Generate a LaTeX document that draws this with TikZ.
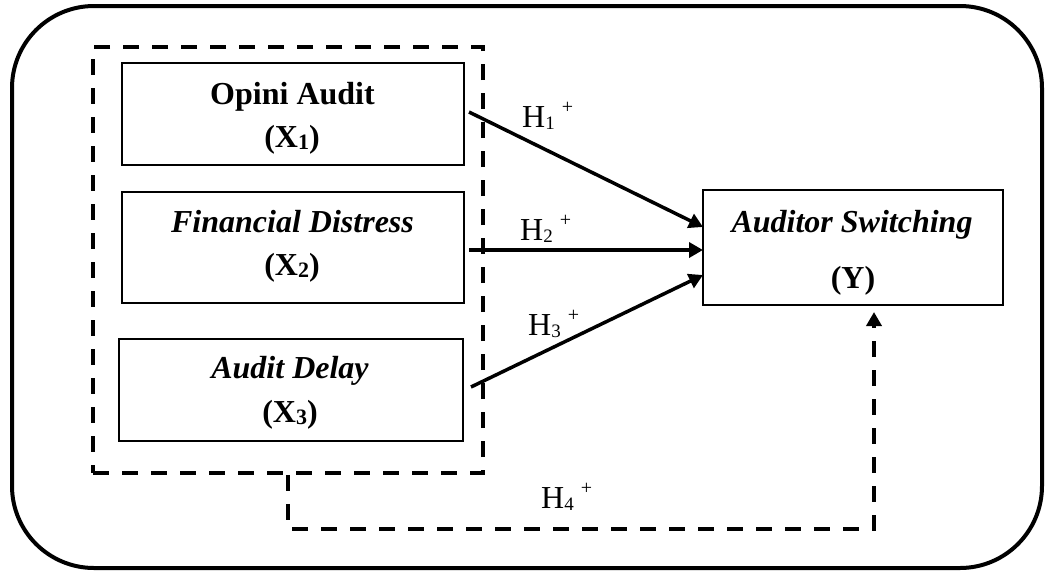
\documentclass[tikz,border=0pt]{standalone}
\usepackage{fontspec}
\setmainfont{Liberation Serif}
\usetikzlibrary{arrows.meta,calc}
\newcommand\mysub[1]{\raisebox{-2pt}{\fontsize{22}{22}\selectfont #1}}
\newcommand\hyplab[1]{H\raisebox{-2pt}{\fontsize{19}{19}\selectfont #1}\hspace{7pt}\raisebox{14pt}{\fontsize{20}{20}\selectfont +}}
\begin{document}
\begin{tikzpicture}[x=1pt,y=-1pt,
  box/.style={draw, line width=2pt, inner sep=0pt},
  lbl/.style={inner sep=0pt, anchor=base, font=\fontsize{32}{38}\selectfont},
  hyp/.style={inner sep=0pt, anchor=base west, font=\fontsize{32}{38}\selectfont},
  conn/.style={line width=3.5pt, -{Triangle[length=14pt,width=15pt]}},
  dashfour/.style={line width=3.5pt, dash pattern=on 16pt off 13pt},
]
\useasboundingbox (0,0) rectangle (1045,571);
\draw[line width=4pt, rounded corners=82pt] (12,6) rectangle (1042,568);

% dashed group
\node[draw, dashfour, minimum width=390pt, minimum height=426pt, inner sep=0pt] (grp) at (288,260) {};

% boxes
\node[box, minimum width=342pt, minimum height=102pt] (x1) at (293,114) {};
\node[box, minimum width=342pt, minimum height=111pt] (x2) at (293,247.5) {};
\node[box, minimum width=344pt, minimum height=102pt] (x3) at (291,390) {};
\node[box, minimum width=300pt, minimum height=115pt] (as) at (853,247.5) {};

% texts
\node[lbl] (x1a) at (292.5,104) {\bfseries Opini Audit};
\node[lbl] (x1b) at (292,147) {\bfseries (X\mysub{1})};
\node[lbl] (x2a) at (292.5,232) {\bfseries\itshape Financial Distress};
\node[lbl] (x2b) at (292,275) {\bfseries (X\mysub{2})};
\node[lbl] (x3a) at (290,378) {\bfseries\itshape Audit Delay};
\node[lbl] (x3b) at (290,422) {\bfseries (X\mysub{3})};
\node[lbl] (ya) at (852,232) {\bfseries\itshape Auditor Switching};
\node[lbl] (yb) at (853,288) {\bfseries (Y)};

% connectors
\coordinate (s1) at (469,112);
\coordinate (e1) at (703,227);
\coordinate (s2) at (469,250);
\coordinate (e2) at (703,250);
\coordinate (s3) at (471,387);
\coordinate (e3) at (703,275);
\coordinate (e4) at (874,312);
\draw[conn] (s1) -- (e1);
\draw[conn] (s2) -- (e2);
\draw[conn] (s3) -- (e3);
\draw[dashfour, -{Triangle[length=14pt,width=15pt]}] (grp.south) -- ++(0,54) -| (e4);

% hypothesis labels
\node[hyp] (h1) at (522,127) {\hyplab{1}};
\node[hyp] (h2) at (520,240) {\hyplab{2}};
\node[hyp] (h3) at (528,335) {\hyplab{3}};
\node[hyp] (h4) at (541,508) {\hyplab{4}};
\end{tikzpicture}
\end{document}
